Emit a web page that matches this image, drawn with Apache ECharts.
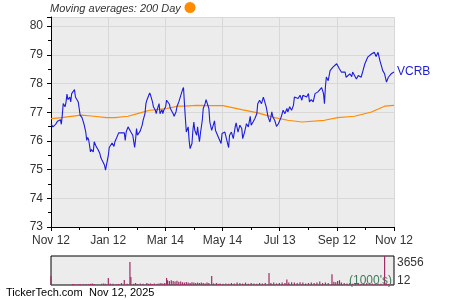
<!DOCTYPE html>
<html><head><meta charset="utf-8">
<script src="https://cdn.jsdelivr.net/npm/echarts@6.0.0/dist/echarts.min.js"></script>
<style>html,body{margin:0;padding:0;background:#fff}#c{width:450px;height:300px}</style>
</head><body><div id="c"></div>
<script>
const xTickLabels = ['Nov 12','Jan 12','Mar 14','May 14','Jul 13','Sep 12','Nov 12'];
// day offsets from Nov 12, 2024
const priceDays = [0,2,5,7,8,10,11,12,13,15,16,17,18,20,21,22,23,25,26,28,29,30,31,33,34,35,37,38,39,40,41,42,43,45,46,48,49,50,52,53,54,56,57,58,59,60,61,62,64,65,67,68,69,70,72,73,75,76,78,79,80,82,83,85,86,87,89,90,91,92,94,95,97,98,100,101,102,103,105,106,108,109,111,112,113,115,116,118,119,120,122,123,125,126,127,129,130,131,133,134,136,137,138,140,141,142,143,144,146,147,148,150,151,152,153,155,156,157,158,159,161,162,164,165,167,168,169,171,172,174,175,176,178,179,181,182,
185,187,189,190,192,194,196,197,199,201,203,204,206,208,210,212,213,215,217,219,220,222,224,226,228,229,231,233,235,236,238,240,242,243,245,247,249,251,252,254,256,258,259,261,263,265,267,268,270,272,274,275,277,279,281,282,284,286,288,290,291,292,293,
295,297,298,300,302,304,305,307,309,311,313,314,316,318,320,321,323,325,327,329,330,332,334,336,337,339,341,343,344,346,348,350,352,353,355,357,358,359,361,362,364,365];
const prices = [76.60,76.49,76.58,76.69,76.63,76.74,76.58,76.90,77.30,77.19,77.36,77.63,77.44,77.53,77.36,77.65,77.59,77.79,77.53,77.51,77.36,77.13,76.90,76.81,76.78,76.60,76.31,76.02,76.12,76.05,75.85,75.62,75.70,75.62,75.97,75.81,75.77,75.70,75.56,75.42,75.35,75.38,75.15,74.98,74.92,75.03,75.50,75.77,75.81,75.93,75.81,75.97,75.93,76.12,76.28,76.26,76.28,76.23,76.28,76.02,76.31,76.49,76.47,76.31,76.28,76.20,75.77,76.05,76.43,76.20,76.23,76.35,76.55,76.72,76.95,77.30,77.42,77.44,77.67,77.59,77.36,77.19,77.07,76.95,77.09,77.30,76.95,77.09,76.95,77.07,77.19,77.42,77.48,77.28,77.13,77.19,76.95,76.86,77.01,77.19,77.36,77.30,77.42,77.79,77.86,77.30,76.78,76.31,76.49,76.02,75.73,75.91,76.37,76.66,76.37,76.20,76.49,76.20,75.97,76.26,76.72,77.13,77.30,77.44,77.44,77.13,76.66,76.37,76.43,76.70,76.37,76.31,76.14,76.08,75.91,76.26,
76.31,76.26,75.77,76.20,76.31,76.08,76.49,76.63,76.31,76.55,76.43,76.08,76.31,76.60,76.49,76.86,76.55,76.66,76.78,76.95,77.30,77.42,77.30,77.53,77.56,77.19,76.84,76.66,77.01,76.84,76.72,76.51,76.60,76.66,76.84,77.07,76.95,77.13,77.01,77.19,77.07,77.24,77.53,77.59,77.48,77.59,77.42,77.59,77.65,77.53,77.65,77.36,77.44,77.36,77.65,77.59,77.71,77.71,77.86,77.65,77.30,77.88,78.23,
78.10,78.45,78.40,78.57,78.63,78.69,78.71,78.51,78.40,78.34,78.40,78.22,78.28,78.34,78.24,78.40,78.34,78.16,78.28,78.34,78.22,78.45,78.69,78.74,78.92,78.98,79.03,78.98,79.09,78.94,79.09,78.80,78.57,78.45,78.34,78.05,77.99,78.22,78.16,78.34,78.28,78.40];
const maDays = [0,11,32,43,59,68,82,95,105,110,123,128,134,142,155,170,183,185,203,220,238,252,267,291,305,323,341,355,365];
const maValues = [76.78,76.81,76.90,76.87,76.81,76.81,76.86,76.98,77.07,77.08,77.13,77.16,77.21,77.21,77.24,77.23,77.23,77.21,77.09,76.98,76.81,76.72,76.66,76.72,76.81,76.86,77.01,77.21,77.24];
const volDays = [0,23,25,29,31,34,37,40,42,44,46,54,56,58,61,63,66,70,72,75,78,81,84,85,88,90,92,95,98,102,104,106,108,110,113,115,117,119,121,123,124,126,128,130,132,134,136,138,140,142,144,146,148,150,152,154,156,158,160,162,164,166,168,171,173,176,178,180,183,186,189,192,195,198,201,204,207,210,213,216,219,222,225,228,232,234,237,240,243,246,249,251,253,256,259,262,265,268,271,274,277,280,283,286,289,292,295,299,301,303,305,307,309,312,315,318,321,324,327,330,333,336,339,342,345,348,351,355,357,359,362,364];
const volumes = [1100,120,120,100,120,100,120,100,150,200,120,150,200,150,880,200,150,120,120,250,630,150,2900,1000,150,250,120,200,150,250,150,200,120,200,150,200,250,200,250,880,600,500,600,500,450,550,400,450,350,300,380,300,250,350,300,250,300,250,300,250,200,300,250,1130,200,250,150,200,150,200,150,250,200,300,250,200,300,150,250,200,150,250,200,250,1500,250,300,200,250,300,250,700,300,350,300,250,350,300,200,250,300,250,300,450,250,300,250,1350,400,350,500,600,300,250,200,250,150,200,250,150,200,250,150,200,150,200,150,3656,150,120,100,120];

const SPAN = 365;
const textColor = '#333';
const font = 'Liberation Sans, Arial, sans-serif';
const pricePts = priceDays.map((d, i) => [d, prices[i]]);
const maPts = maDays.map((d, i) => [d, maValues[i]]);
const volPts = volDays.map((d, i) => [d, volumes[i]]);

const chart = echarts.init(document.getElementById('c'), null, {renderer: 'canvas'});
chart.setOption({
  animation: false,
  textStyle: {fontFamily: font},
  grid: [
    {left: 51, top: 17, width: 343, height: 210, show: true, backgroundColor: '#ececec', borderWidth: 0},
    {left: 51, top: 256, width: 343, height: 29, show: true, backgroundColor: '#ececec', borderColor: '#000', borderWidth: 1}
  ],
  xAxis: [
    {gridIndex: 0, type: 'value', min: 0, max: SPAN, interval: SPAN / 6,
      axisLine: {show: true, onZero: false, lineStyle: {color: '#000', width: 1}},
      axisTick: {show: true, length: 4, lineStyle: {color: '#000'}},
      minorTick: {show: true, splitNumber: 2, length: 3, lineStyle: {color: '#000'}},
      axisLabel: {color: textColor, fontSize: 12, margin: 8, fontFamily: font, showMinLabel: true, showMaxLabel: true,
        formatter: v => xTickLabels[Math.round(v / (SPAN / 6))]},
      splitLine: {show: true, lineStyle: {color: '#d8d8d8', width: 1}}},
    {gridIndex: 1, type: 'value', min: 0, max: SPAN, show: false}
  ],
  yAxis: [
    {gridIndex: 0, type: 'value', min: 73, max: 80.32, interval: 1,
      axisLine: {show: true, onZero: false, lineStyle: {color: '#000', width: 1}},
      axisTick: {show: true, length: 4, lineStyle: {color: '#000'}},
      minorTick: {show: true, splitNumber: 2, length: 3, lineStyle: {color: '#000'}},
      axisLabel: {color: textColor, fontSize: 12, margin: 8, fontFamily: font, showMaxLabel: false,
        formatter: v => (Number.isInteger(v) ? String(v) : '')},
      splitLine: {show: true, lineStyle: {color: '#d8d8d8', width: 1}}},
    {gridIndex: 1, type: 'value', min: 0, max: 3656, show: false}
  ],
  series: [
    {type: 'line', xAxisIndex: 0, yAxisIndex: 0, data: maPts, showSymbol: false, smooth: false,
      lineStyle: {color: '#ff8c00', width: 1.2}, z: 2},
    {type: 'line', xAxisIndex: 0, yAxisIndex: 0, data: pricePts, showSymbol: false,
      lineStyle: {color: '#1c1cdc', width: 1.1}, z: 3,
      endLabel: {show: true, formatter: 'VCRB', color: '#1c1cdc', fontSize: 12, fontFamily: font, distance: 3}},
    {type: 'bar', xAxisIndex: 1, yAxisIndex: 1, data: volPts, barWidth: 1.2,
      itemStyle: {color: '#9c2f66'}}
  ],
  graphic: [
    {type: 'text', left: 50, top: 3, style: {text: 'Moving averages: 200 Day', font: 'italic 11px ' + font, fill: textColor}},
    {type: 'circle', shape: {cx: 190, cy: 7.5, r: 5.5}, style: {fill: '#ff8c00'}},
    {type: 'text', x: 397, y: 263, style: {text: '3656', font: '12px ' + font, fill: textColor, verticalAlign: 'middle'}},
    {type: 'text', x: 397, y: 281, style: {text: '12', font: '12px ' + font, fill: textColor, verticalAlign: 'middle'}},
    {type: 'text', x: 392, y: 281, z: 10, style: {text: "(1000's)", font: '12px ' + font, fill: '#3f7a58', align: 'right', verticalAlign: 'middle'}},
    {type: 'text', x: 6, y: 293, style: {text: 'TickerTech.com', font: '11px ' + font, fill: '#000', verticalAlign: 'middle'}},
    {type: 'text', x: 89, y: 293, style: {text: 'Nov 12, 2025', font: '11px ' + font, fill: '#000', verticalAlign: 'middle'}}
  ]
});
</script>
</body></html>
